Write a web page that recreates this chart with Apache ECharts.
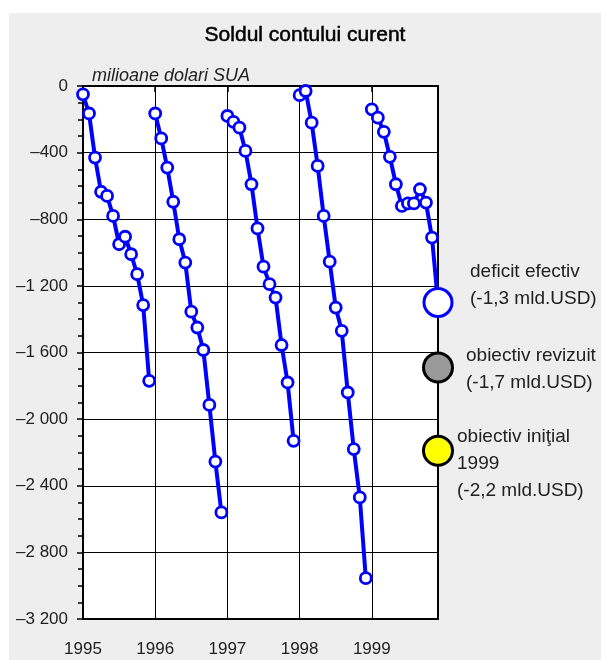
<!DOCTYPE html>
<html>
<head>
<meta charset="utf-8">
<script src="https://cdn.jsdelivr.net/npm/echarts@6/dist/echarts.min.js"></script>
<style>
  body { margin: 0; background: #fff; }
  #chart { position: absolute; left: 9px; top: 13px; width: 592px; height: 647px; }
</style>
</head>
<body>
<div id="chart"></div>
<script type="text/javascript">

// lunar values, milioane dolari SUA (cumulat de la inceputul anului)
var years = [1995, 1996, 1997, 1998, 1999];
var values1995 = [-50, -165, -430, -635, -660, -780, -950, -905, -1010, -1130, -1315, -1770];
var values1996 = [-165, -315, -490, -695, -920, -1060, -1355, -1450, -1585, -1915, -2255, -2560];
var values1997 = [-180, -215, -250, -390, -590, -855, -1085, -1190, -1270, -1555, -1780, -2130];
var values1998 = [-55, -30, -220, -480, -780, -1055, -1330, -1470, -1840, -2180, -2470, -2955];
var values1999 = [-140, -190, -275, -425, -590, -720, -705, -705, -620, -700, -910, -1300];
var yearValues = [values1995, values1996, values1997, values1998, values1999];

// tinte pentru 1999 (decembrie)
var targetNames = ['deficit efectiv', 'obiectiv revizuit', 'obiectiv initial'];
var targetValues = [-1300, -1690, -2190];
var targetMonth = 59;

var yTicks = [0, -400, -800, -1200, -1600, -2000, -2400, -2800, -3200];

var font = 'Liberation Sans, Arial, Helvetica, sans-serif';

var targetStyles = [
    {color: '#ffffff', borderColor: '#0000ff', borderWidth: 3, opacity: 1},
    {color: '#999999', borderColor: '#000000', borderWidth: 3, opacity: 1},
    {color: '#ffff00', borderColor: '#000000', borderWidth: 3, opacity: 1}
];
var targetSizes = [28, 29, 29];

function fmtY(v) {
    if (v === 0) return '0';
    var s = String(Math.abs(v)).replace(/\B(?=(\d{3})+(?!\d))/g, ' ');
    return (v < 0 ? '\u2013' : '') + s;
}

var series = [];
for (var i = 0; i < years.length; i++) {
    series.push({
        name: String(years[i]),
        type: 'line',
        clip: false,
        symbol: 'circle',
        symbolSize: 11,
        showAllSymbol: true,
        lineStyle: {color: '#0000ff', width: 4},
        itemStyle: {color: '#ffffff', borderColor: '#0000ff', borderWidth: 2.8},
        data: yearValues[i].map(function (v, m) { return [12 * i + m, v]; }),
        z: 3
    });
}
series.push({
    name: 'tinte',
    type: 'scatter',
    clip: false,
    symbol: 'circle',
    data: targetValues.map(function (v, k) {
        return {name: targetNames[k], value: [targetMonth, v], symbolSize: targetSizes[k], itemStyle: targetStyles[k]};
    }),
    z: 5
});

var yearTicks = years.map(function (y, i) { return 12 * i; });

var option = {
    backgroundColor: '#eeeeee',
    animation: false,
    title: {
        text: 'Soldul contului curent',
        left: 'center',
        top: 7,
        textStyle: {fontFamily: font, fontSize: 21, fontWeight: 'normal', color: '#000',
            textBorderColor: '#000', textBorderWidth: 0.5}
    },
    grid: {
        left: 74, right: 163, top: 73, bottom: 41,
        show: true, backgroundColor: '#ffffff', borderColor: '#000', borderWidth: 2
    },
    xAxis: {
        type: 'value',
        min: 0,
        max: targetMonth,
        interval: 12,
        axisLine: {lineStyle: {color: '#000', width: 2}},
        axisTick: {length: 6, customValues: yearTicks, lineStyle: {color: '#000', width: 1.5}},
        splitLine: {show: true, lineStyle: {color: '#000', width: 1}},
        axisLabel: {
            customValues: yearTicks,
            margin: 22,
            fontFamily: font, fontSize: 17, color: '#222',
            formatter: function (v) { return String(years[0] + v / 12); }
        }
    },
    yAxis: {
        type: 'value',
        min: yTicks[yTicks.length - 1],
        max: yTicks[0],
        interval: 400,
        axisLine: {show: true, lineStyle: {color: '#000', width: 2}},
        axisTick: {show: true, length: 6, lineStyle: {color: '#000', width: 1.5}},
        minorTick: {show: true, splitNumber: 4, length: 5, lineStyle: {color: '#000', width: 1.5}},
        splitLine: {show: true, lineStyle: {color: '#000', width: 1}},
        axisLabel: {margin: 15, fontFamily: font, fontSize: 17, color: '#222', formatter: fmtY}
    },
    graphic: [
        {type: 'text', left: 83, top: 54, style: {text: 'milioane dolari SUA', fontFamily: font, fontSize: 18, fontStyle: 'italic', fill: '#222'}},
        {type: 'text', x: 461, y: 245, style: {text: 'deficit efectiv\n(-1,3 mld.USD)', fontFamily: font, fontSize: 19, lineHeight: 27, fill: '#222', verticalAlign: 'top'}},
        {type: 'text', x: 457, y: 329, style: {text: 'obiectiv revizuit\n(-1,7 mld.USD)', fontFamily: font, fontSize: 19, lineHeight: 27, fill: '#222', verticalAlign: 'top'}},
        {type: 'text', x: 448, y: 410, style: {text: 'obiectiv ini\u0163ial\n1999\n(-2,2 mld.USD)', fontFamily: font, fontSize: 19, lineHeight: 27, fill: '#222', verticalAlign: 'top'}}
    ],
    series: series
};

var chart = echarts.init(document.getElementById('chart'));
chart.setOption(option);
</script>
</body>
</html>
